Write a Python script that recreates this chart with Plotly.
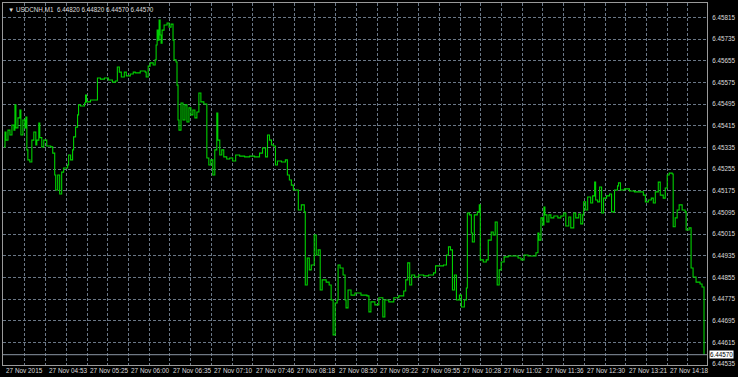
import plotly.graph_objects as go

# ---- data (bar index on the M1 chart, close price) ----
bars = [0.5, 1, 1.5, 2.5, 3.5, 4.5, 5.5, 6, 6.5, 7.5, 8.5, 9, 10, 11, 11.5, 12, 12.5, 13.5, 14.5, 15.5,
        16.5, 17, 18, 18.5, 19.5, 20.5, 22, 24, 25, 26, 26.5, 27.5, 28.5, 29.5, 30.5, 32, 32.5, 33, 34, 35,
        35.5, 36.5, 37.5, 38, 39, 41, 41.5, 42, 44, 47, 47.5, 49, 51, 53, 55, 56.5, 57.5, 58.5, 59.5, 61,
        62, 64, 65.5, 66.5, 69, 71.5, 72, 73, 74, 75.5, 76.5, 77, 77.5, 78, 78.5, 79, 79.5, 80, 81, 82.5,
        83.5, 84.5, 85.5, 86, 87, 87.5, 88, 88.5, 89.5, 90.5, 91.5, 92.5, 93.5, 94.5, 95.5, 96.5, 97.5, 98.5, 99.5, 101,
        102.5, 103.5, 104.5, 105.5, 106.5, 107.5, 108, 109, 110, 111, 112.5, 114, 115.5, 117, 119, 121.5, 124, 126.5, 129, 130.5,
        132, 133, 134, 135, 136, 137, 138, 140, 142, 143, 144, 145, 146, 147.5, 148.5, 150, 151.5, 152, 153, 154,
        155, 156.5, 157.5, 158.5, 159.5, 160.5, 162.5, 164, 165, 166, 167, 168, 168.5, 169.5, 171, 172, 172.5, 173.5, 175, 177,
        180, 183, 184, 185, 187, 189, 191, 192, 194, 196.5, 199, 201.5, 202.5, 203.5, 204.5, 205.5, 207, 209, 211.5, 214,
        216.5, 217.5, 221.5, 223, 224, 225, 226, 227, 228, 229.5, 230.5, 232, 233, 233.5, 234.5, 235.5, 236, 237, 238.5, 239.5,
        240, 241.5, 243, 244, 245.5, 246.5, 247.5, 248.5, 249.5, 250.5, 252, 254, 256.5, 259, 260.5, 262, 264, 266.5, 268, 269,
        269.5, 270.5, 271.5, 272, 272.5, 273.5, 274.5, 275.5, 277, 279, 280.5, 282, 283, 284.5, 285.5, 287, 288, 289.5, 290.5, 291.5,
        292, 293, 294, 295.5, 296.5, 297.5, 298, 299, 300, 301, 302, 303.5, 305, 306, 307.5, 309, 309.5, 310.5, 312.5, 315,
        317.5, 320, 322, 323, 324.5, 326, 327, 328, 329.5, 330.5, 332, 333, 334, 335, 336.5, 337, 338, 339, 340, 341.5,
        343, 343.5, 345, 346, 347, 348.5, 350.5, 351.5, 352.5]

close = [6.45337, 6.45392, 6.45362, 6.45399, 6.45381, 6.45418, 6.45399, 6.45492, 6.45407, 6.45444, 6.45473, 6.45381, 6.45436, 6.45407, 6.45447, 6.45326, 6.45289, 6.45281, 6.45362, 6.45392,
         6.45344, 6.45362, 6.45425, 6.45371, 6.45337, 6.45362, 6.45340, 6.45337, 6.45314, 6.45233, 6.45178, 6.45233, 6.45163, 6.45244, 6.45259, 6.45259, 6.45270, 6.45307, 6.45289, 6.45326,
         6.45374, 6.45410, 6.45455, 6.45492, 6.45488, 6.45499, 6.45528, 6.45503, 6.45510, 6.45510, 6.45591, 6.45587, 6.45591, 6.45584, 6.45576, 6.45580, 6.45632, 6.45613, 6.45595, 6.45613,
         6.45599, 6.45606, 6.45613, 6.45610, 6.45617, 6.45613, 6.45595, 6.45635, 6.45647, 6.45639, 6.45658, 6.45713, 6.45768, 6.45731, 6.45805, 6.45750, 6.45720, 6.45768, 6.45787, 6.45794,
         6.45779, 6.45790, 6.45731, 6.45658, 6.45650, 6.45565, 6.45436, 6.45399, 6.45499, 6.45436, 6.45492, 6.45429, 6.45481, 6.45455, 6.45473, 6.45444, 6.45466, 6.45536, 6.45503, 6.45495,
         6.45296, 6.45270, 6.45289, 6.45233, 6.45326, 6.45462, 6.45362, 6.45307, 6.45326, 6.45300, 6.45292, 6.45296, 6.45285, 6.45307, 6.45303, 6.45300, 6.45303, 6.45300, 6.45314, 6.45333,
         6.45300, 6.45381, 6.45362, 6.45344, 6.45340, 6.45270, 6.45285, 6.45281, 6.45289, 6.45233, 6.45215, 6.45196, 6.45178, 6.45178, 6.45104, 6.45123, 6.45097, 6.44827, 6.44927, 6.44883,
         6.44901, 6.45012, 6.44938, 6.44957, 6.44809, 6.44846, 6.44838, 6.44827, 6.44772, 6.44643, 6.44761, 6.44772, 6.44901, 6.44890, 6.44864, 6.44772, 6.44743, 6.44809, 6.44790, 6.44798,
         6.44790, 6.44787, 6.44728, 6.44765, 6.44754, 6.44780, 6.44709, 6.44772, 6.44765, 6.44780, 6.44787, 6.44805, 6.44846, 6.44909, 6.44827, 6.44864, 6.44857, 6.44864, 6.44861, 6.44864,
         6.44872, 6.44898, 6.44901, 6.44938, 6.44968, 6.44957, 6.44809, 6.44864, 6.44772, 6.44790, 6.44746, 6.44772, 6.44816, 6.45093, 6.45086, 6.45019, 6.44986, 6.45086, 6.45097, 6.45123,
         6.44920, 6.44912, 6.44920, 6.44993, 6.45023, 6.45012, 6.45060, 6.44827, 6.44883, 6.44912, 6.44931, 6.44934, 6.44934, 6.44927, 6.44920, 6.44938, 6.44934, 6.44934, 6.44946, 6.45019,
         6.44993, 6.45075, 6.45049, 6.45115, 6.45086, 6.45060, 6.45086, 6.45075, 6.45082, 6.45075, 6.45082, 6.45093, 6.45045, 6.45078, 6.45038, 6.45093, 6.45075, 6.45089, 6.45053, 6.45086,
         6.45134, 6.45104, 6.45152, 6.45130, 6.45156, 6.45207, 6.45141, 6.45134, 6.45189, 6.45093, 6.45148, 6.45156, 6.45163, 6.45097, 6.45178, 6.45193, 6.45204, 6.45178, 6.45182, 6.45174,
         6.45171, 6.45171, 6.45159, 6.45134, 6.45141, 6.45148, 6.45130, 6.45171, 6.45207, 6.45159, 6.45148, 6.45185, 6.45233, 6.45240, 6.45237, 6.45042, 6.45075, 6.45104, 6.45123, 6.45104,
         6.45097, 6.45030, 6.45038, 6.44890, 6.44857, 6.44838, 6.44831, 6.44820, 6.44570]

price_ticks = [6.44535, 6.44615, 6.44695, 6.44775, 6.44855, 6.44935, 6.45015, 6.45095, 6.45175,
               6.45255, 6.45335, 6.45415, 6.45495, 6.45575, 6.45655, 6.45735, 6.45815]
time_labels = ["27 Nov 2015", "27 Nov 04:53", "27 Nov 05:25", "27 Nov 06:00", "27 Nov 06:35",
               "27 Nov 07:10", "27 Nov 07:46", "27 Nov 08:18", "27 Nov 08:50", "27 Nov 09:22",
               "27 Nov 09:55", "27 Nov 10:28", "27 Nov 11:02", "27 Nov 11:36", "27 Nov 12:30",
               "27 Nov 13:21", "27 Nov 14:18"]
symbol = "USDCNH,M1"
ohlc = ["6.44820", "6.44820", "6.44570", "6.44570"]
bid = 6.44570

# ---- layout helpers ----
X_MAX = 354
grid_step = 10.42
grid_x = [11 + grid_step * k for k in range(33)]
label_x = [0] + [11 + grid_step * (2 * j + 1) for j in range(len(time_labels) - 1)]

FONT = "Liberation Sans"
TXT = "#dcdcdc"
GRID = "#6a7786"

fig = go.Figure()
fig.add_trace(go.Scatter(x=bars, y=close, mode="lines", line_shape="hv",
                         line=dict(color="#00d000", width=1.1), hoverinfo="skip"))

fig.add_shape(type="line", xref="paper", x0=0, x1=1, yref="y", y0=bid, y1=bid,
              line=dict(color="#8a96a3", width=1))

annotations = []
for lx, lt in zip(label_x, time_labels):
    annotations.append(dict(x=lx, xref="x", y=0, yref="paper", yanchor="middle", yshift=-5,
                            xanchor="left", xshift=1, text=lt, showarrow=False,
                            font=dict(family=FONT, size=6.4, color=TXT)))
annotations.append(dict(x=0, xref="paper", y=1, yref="paper", xanchor="left", yanchor="top",
                        xshift=3, yshift=-1, showarrow=False,
                        text="▼ " + symbol + "  " + " ".join(ohlc),
                        font=dict(family=FONT, size=6.3, color=TXT)))
annotations.append(dict(x=1, xref="paper", y=bid, yref="y", xanchor="left", yanchor="middle",
                        xshift=2, showarrow=False, text=f"{bid:.5f}", bgcolor="#ffffff",
                        borderpad=0, font=dict(family=FONT, size=6.3, color="#000000")))

fig.update_layout(
    width=738, height=377,
    margin=dict(l=2, r=28, t=3, b=12),
    paper_bgcolor="#000000", plot_bgcolor="#000000",
    showlegend=False,
    annotations=annotations,
    xaxis=dict(range=[0, X_MAX], tickvals=grid_x, showticklabels=False, ticks="",
               showgrid=True, gridcolor=GRID, griddash="3px,2px", gridwidth=1,
               zeroline=False, showline=True, linecolor="#9a9a9a", linewidth=1, mirror=True),
    yaxis=dict(range=[6.44532, 6.45868], side="right", tickvals=price_ticks,
               ticktext=[f"{v:.5f}" for v in price_ticks], ticks="", ticklabelstandoff=3,
               tickfont=dict(family=FONT, size=6.3, color=TXT),
               showgrid=True, gridcolor=GRID, griddash="3px,2px", gridwidth=1,
               zeroline=False, showline=True, linecolor="#9a9a9a", linewidth=1, mirror=True),
)

fig.write_html("out.html")
